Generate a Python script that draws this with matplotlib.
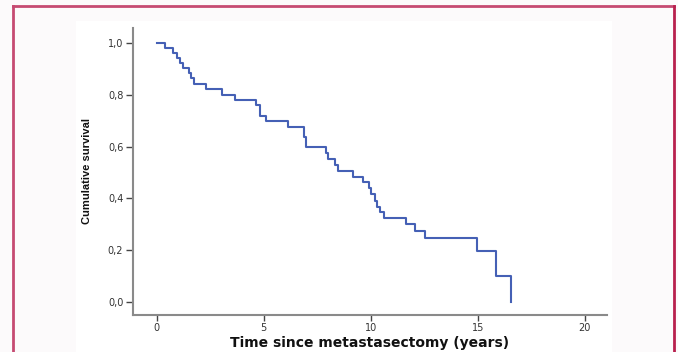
import matplotlib
matplotlib.use("Agg")
import matplotlib.pyplot as plt
from matplotlib.lines import Line2D

# Kaplan-Meier step data (time of drop, survival after drop)
times = [0.0, 0.40, 0.76, 0.94, 1.10, 1.22, 1.53, 1.63, 1.77, 2.33, 3.08, 3.67,
         4.65, 4.82, 5.12, 6.16, 6.87, 6.98, 7.92, 8.02, 8.32, 8.48, 9.16, 9.65,
         9.90, 10.02, 10.20, 10.29, 10.46, 10.63, 11.63, 12.06, 12.55, 14.96,
         15.86, 16.55]
survival = [1.0, 0.980, 0.961, 0.941, 0.922, 0.902, 0.882, 0.863, 0.843, 0.822,
            0.800, 0.780, 0.759, 0.718, 0.698, 0.677, 0.637, 0.597, 0.574, 0.552,
            0.529, 0.507, 0.484, 0.462, 0.439, 0.417, 0.392, 0.368, 0.347, 0.324,
            0.301, 0.275, 0.246, 0.199, 0.100, 0.0]

x_ticks = [0, 5, 10, 15, 20]
y_ticks = [0.0, 0.2, 0.4, 0.6, 0.8, 1.0]
y_tick_labels = ["0,0", "0,2", "0,4", "0,6", "0,8", "1,0"]

W, H = 678, 352
fig = plt.figure(figsize=(W / 100, H / 100), dpi=100)
fig.patch.set_facecolor("#fcfafb")

# white inner panel (as a background axes)
bg = fig.add_axes([76 / W, 0, (612 - 76) / W, (H - 21) / H], zorder=-1)
bg.set_facecolor("white")
bg.set_xticks([])
bg.set_yticks([])
for s in bg.spines.values():
    s.set_visible(False)

# crimson frame
fc = "#c64a72"
fig.lines.append(Line2D([13 / W, 13 / W], [0, 1 - 6 / H], transform=fig.transFigure, color=fc, lw=2))
fig.lines.append(Line2D([13 / W, 674 / W], [1 - 6 / H, 1 - 6 / H], transform=fig.transFigure, color=fc, lw=2))
fig.lines.append(Line2D([674 / W, 674 / W], [0, 1 - 6 / H], transform=fig.transFigure, color="#b8204e", lw=2))

ax = fig.add_axes([133 / W, 1 - 315 / H, (607 - 133) / W, (315 - 28) / H], zorder=1)
ax.patch.set_alpha(0)
ax.step(times, survival, where="post", color="#4560b5", lw=1.5)

ax.set_xlim(-1.1, 21.04)
ax.set_ylim(-0.049, 1.057)
ax.set_xticks(x_ticks)
ax.set_yticks(y_ticks)
ax.set_yticklabels(y_tick_labels)

for s in ["top", "right"]:
    ax.spines[s].set_visible(False)
for s in ["left", "bottom"]:
    ax.spines[s].set_color("#8a8a8a")
    ax.spines[s].set_linewidth(1.5)
ax.tick_params(axis="both", direction="out", color="#444444", labelsize=7,
               labelcolor="#333333", width=1)
ax.tick_params(axis="y", length=5, pad=2)
ax.tick_params(axis="x", length=4, pad=2)

ax.set_xlabel("Time since metastasectomy (years)", fontsize=10, fontweight="bold",
              color="#111111", labelpad=2)
ax.set_ylabel("Cumulative survival", fontsize=8, fontweight="bold",
              family=["Liberation Sans Narrow", "Liberation Sans", "DejaVu Sans"],
              color="#111111", labelpad=11)

fig.savefig("out.png", dpi=100, facecolor=fig.get_facecolor())
